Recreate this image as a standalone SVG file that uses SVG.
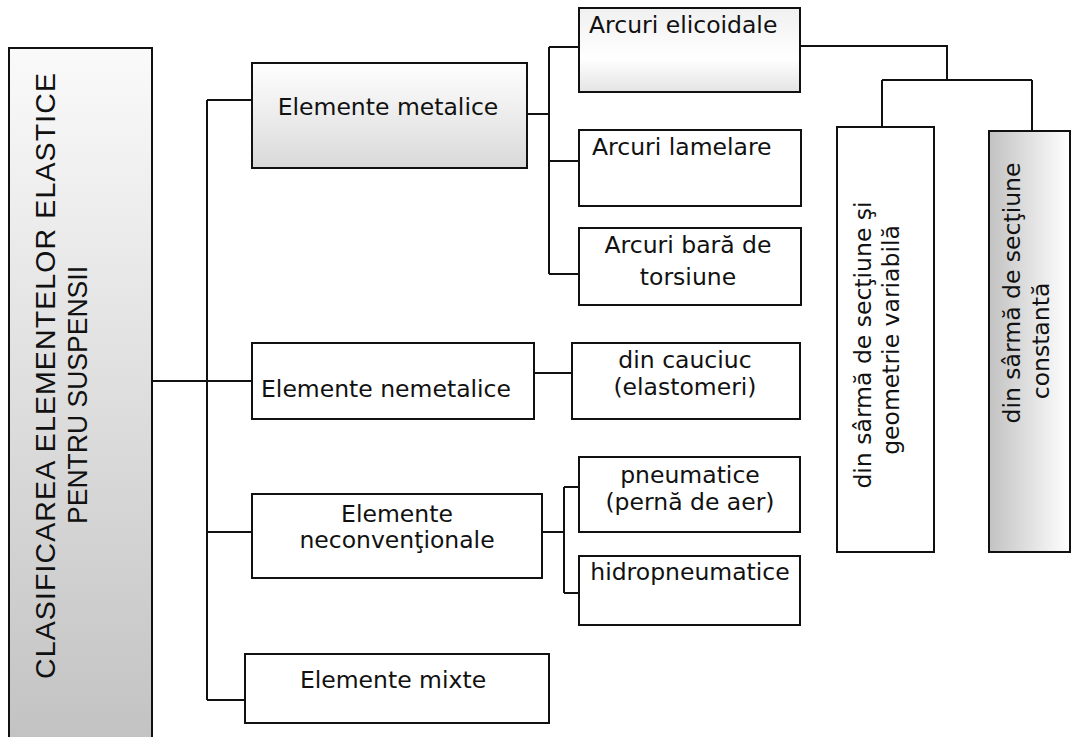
<svg xmlns="http://www.w3.org/2000/svg" width="1072" height="737" viewBox="0 0 1072 737">
<defs>
<linearGradient id="gMain" x1="0" y1="0" x2="0" y2="1"><stop offset="0" stop-color="#fafafa"/><stop offset="1" stop-color="#c2c2c2"/></linearGradient>
<linearGradient id="gMet" x1="0" y1="0" x2="0" y2="1"><stop offset="0" stop-color="#ffffff"/><stop offset="1" stop-color="#d9d9d9"/></linearGradient>
<linearGradient id="gEli" x1="0" y1="0" x2="0" y2="1"><stop offset="0" stop-color="#f0f0f0"/><stop offset="0.6" stop-color="#ffffff"/><stop offset="1" stop-color="#e4e4e4"/></linearGradient>
<linearGradient id="gCon" x1="0" y1="0" x2="1" y2="0"><stop offset="0" stop-color="#c2c2c2"/><stop offset="1" stop-color="#ffffff"/></linearGradient>
</defs>
<style>
.box{fill:#fff;stroke:#111;stroke-width:2}
.ln{fill:none;stroke:#111;stroke-width:2}
.t{font-family:"DejaVu Sans",Verdana,sans-serif;font-size:23.5px;fill:#111}
.m{text-anchor:middle}
.a{font-family:"Liberation Sans",Arial,sans-serif;font-size:28.5px;fill:#111;text-anchor:middle}
</style>
<g id="connectors">
<path class="ln" d="M152 381H252M207 100V700M207 100H252M207 532H252M207 700H245"/>
<path class="ln" d="M527 114H549M549 47V274M549 47H579M549 161H579M549 274H579"/>
<path class="ln" d="M534 373H572"/>
<path class="ln" d="M542 532H564M564 487V593M564 487H579M564 593H579"/>
<path class="ln" d="M800 46H948M947 46V80M882 80H1032M882 80V127M1032 80V131"/>
</g>
<g id="main">
<rect x="9" y="48" width="143" height="700" fill="url(#gMain)" stroke="#111" stroke-width="2"/>
<text class="a" transform="translate(55,376) rotate(-90)" textLength="606" lengthAdjust="spacing">CLASIFICAREA ELEMENTELOR ELASTICE</text>
<text class="a" transform="translate(87,395) rotate(-90)" textLength="258" lengthAdjust="spacingAndGlyphs">PENTRU SUSPENSII</text>
</g>
<g id="metalice">
<rect x="252" y="63" width="275" height="105" fill="url(#gMet)" stroke="#111" stroke-width="2"/>
<text class="t m" x="388" y="115">Elemente metalice</text>
</g>
<g id="elicoidale">
<rect x="579" y="8" width="221" height="84" fill="url(#gEli)" stroke="#111" stroke-width="2"/>
<text class="t" x="589" y="33">Arcuri elicoidale</text>
</g>
<g id="lamelare">
<rect class="box" x="579" y="130" width="222" height="76"/>
<text class="t" x="592" y="155">Arcuri lamelare</text>
</g>
<g id="torsiune">
<rect class="box" x="579" y="228" width="222" height="77"/>
<text class="t m" x="688" y="253">Arcuri bară de</text>
<text class="t m" x="688" y="285">torsiune</text>
</g>
<g id="nemetalice">
<rect class="box" x="252" y="343" width="282" height="76"/>
<text class="t" x="261" y="397">Elemente nemetalice</text>
</g>
<g id="cauciuc">
<rect class="box" x="572" y="343" width="228" height="76"/>
<text class="t m" x="685" y="368">din cauciuc</text>
<text class="t m" x="685" y="395">(elastomeri)</text>
</g>
<g id="neconventionale">
<rect class="box" x="252" y="494" width="290" height="84"/>
<text class="t m" x="397" y="522">Elemente</text>
<text class="t m" x="397" y="548">neconvenţionale</text>
</g>
<g id="pneumatice">
<rect class="box" x="579" y="457" width="221" height="75"/>
<text class="t m" x="690" y="483">pneumatice</text>
<text class="t m" x="690" y="510">(pernă de aer)</text>
</g>
<g id="hidropneumatice">
<rect class="box" x="579" y="556" width="221" height="69"/>
<text class="t m" x="690" y="580">hidropneumatice</text>
</g>
<g id="mixte">
<rect class="box" x="245" y="654" width="304" height="69"/>
<text class="t m" x="393" y="688">Elemente mixte</text>
</g>
<g id="variabila">
<rect class="box" x="837" y="127" width="97" height="425"/>
<text class="t m" transform="translate(871,345) rotate(-90)">din sârmă de secţiune şi</text>
<text class="t m" transform="translate(899,340) rotate(-90)">geometrie variabilă</text>
</g>
<g id="constanta">
<rect x="989" y="131" width="81" height="421" fill="url(#gCon)" stroke="#111" stroke-width="2"/>
<text class="t m" transform="translate(1020,293) rotate(-90)">din sârmă de secţiune</text>
<text class="t m" transform="translate(1049,341) rotate(-90)">constantă</text>
</g>
</svg>
